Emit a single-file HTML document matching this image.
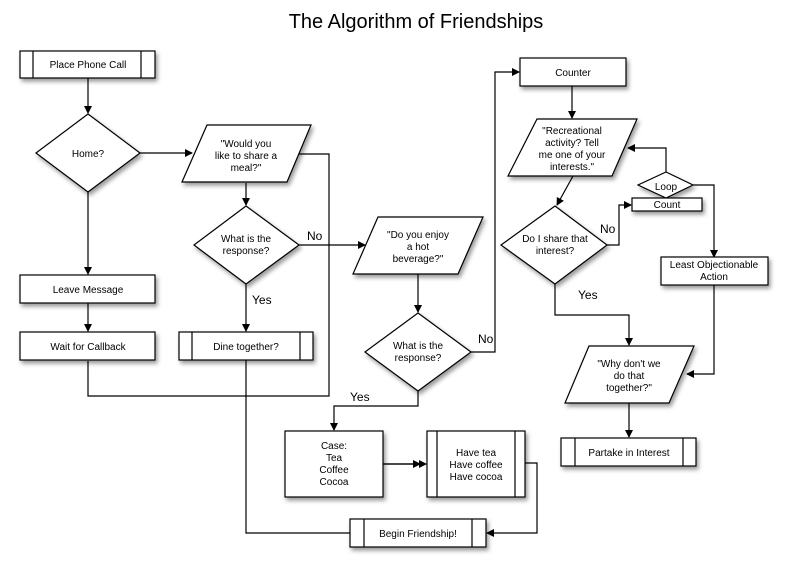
<!DOCTYPE html>
<html><head><style>body{margin:0;background:#fff}svg{display:block}</style></head><body>
<svg width="787" height="571" viewBox="0 0 787 571" xmlns="http://www.w3.org/2000/svg" font-family="Liberation Sans, sans-serif">
<defs>
<filter id="sh" x="-20%" y="-20%" width="150%" height="160%"><feDropShadow dx="2" dy="3" stdDeviation="2" flood-color="#000" flood-opacity="0.4"/></filter>
<marker id="ar" markerWidth="8" markerHeight="8" refX="7" refY="4" orient="auto" markerUnits="userSpaceOnUse"><path d="M0,0 L8,4 L0,8 z" fill="#000"/></marker>
</defs>
<text x="416" y="28" font-size="20" text-anchor="middle">The Algorithm of Friendships</text>
<g fill="none" stroke="#000" stroke-width="1.2">
<line x1="88" y1="78" x2="88" y2="113" marker-end="url(#ar)"/>
<line x1="140" y1="153" x2="192" y2="153" marker-end="url(#ar)"/>
<line x1="88" y1="192" x2="88" y2="274" marker-end="url(#ar)"/>
<line x1="88" y1="303" x2="88" y2="331" marker-end="url(#ar)"/>
<polyline points="88,361 88,396 329,396 329,154 298,154"/>
<line x1="246" y1="183" x2="246" y2="205" marker-end="url(#ar)"/>
<line x1="299" y1="245" x2="365" y2="245" marker-end="url(#ar)"/>
<line x1="246" y1="284" x2="246" y2="331" marker-end="url(#ar)"/>
<polyline points="246,360 246,533 350,533"/>
<line x1="418" y1="274" x2="418" y2="312" marker-end="url(#ar)"/>
<polyline points="471,352 495,352 495,72 519,72" marker-end="url(#ar)"/>
<polyline points="418,391 418,406 334,406 334,430" marker-end="url(#ar)"/>
<line x1="383" y1="464" x2="420" y2="464" marker-end="url(#ar)"/>
<line x1="383" y1="464" x2="426" y2="464" marker-end="url(#ar)"/>
<polyline points="525,463 537,463 537,533 487,533" marker-end="url(#ar)"/>
<line x1="572" y1="86" x2="572" y2="118" marker-end="url(#ar)"/>
<line x1="573" y1="176" x2="557" y2="205" marker-end="url(#ar)"/>
<polyline points="607,245 619,245 619,205 631,205" marker-end="url(#ar)"/>
<polyline points="666,172 666,148 628,148" marker-end="url(#ar)"/>
<polyline points="693,185 714,185 714,257" marker-end="url(#ar)"/>
<polyline points="714,285 714,374 687,374" marker-end="url(#ar)"/>
<polyline points="555,284 555,315 629,315 629,345" marker-end="url(#ar)"/>
<line x1="629" y1="403" x2="629" y2="437" marker-end="url(#ar)"/>
</g>
<g fill="#fff" stroke="#000" stroke-width="1.2" filter="url(#sh)">
<rect x="20" y="51" width="135" height="27"/>
<polygon points="88,114 140,153 88,192 36,153"/>
<polygon points="207,125 311,125 287,182 182,182"/>
<polygon points="246,206 299,245 246,284 194,245"/>
<rect x="20" y="275" width="135" height="28"/>
<rect x="20" y="332" width="135" height="28"/>
<rect x="179" y="332" width="134" height="28"/>
<polygon points="378,217 483,217 458,274 353,274"/>
<polygon points="418,313 471,352 418,391 365,352"/>
<rect x="285" y="431" width="98" height="66"/>
<rect x="427" y="431" width="98" height="66"/>
<rect x="350" y="519" width="136" height="28"/>
<rect x="520" y="58" width="106" height="28"/>
<polygon points="537,119 637,119 612,176 508,176"/>
<polygon points="555,206 607,245 555,284 501,245"/>
<rect x="632" y="198" width="70" height="13"/>
<polygon points="666,172 693,185 666,198 638,185"/>
<rect x="661" y="257" width="107" height="28"/>
<polygon points="589,346 694,346 669,403 565,403"/>
<rect x="561" y="438" width="135" height="28"/>
</g>
<g stroke="#000" stroke-width="1.2">
<line x1="33" y1="51" x2="33" y2="78"/><line x1="141" y1="51" x2="141" y2="78"/>
<line x1="192" y1="332" x2="192" y2="360"/><line x1="300" y1="332" x2="300" y2="360"/>
<line x1="437" y1="431" x2="437" y2="497"/><line x1="515" y1="431" x2="515" y2="497"/>
<line x1="364" y1="519" x2="364" y2="547"/><line x1="472" y1="519" x2="472" y2="547"/>
<line x1="575" y1="438" x2="575" y2="466"/><line x1="683" y1="438" x2="683" y2="466"/>
</g>
<g font-size="10" text-anchor="middle" fill="#000">
<text x="88" y="68">Place Phone Call</text>
<text x="88" y="157">Home?</text>
<text x="246" y="147">"Would you</text><text x="246" y="159">like to share a</text><text x="246" y="171">meal?"</text>
<text x="246" y="242">What is the</text><text x="246" y="254">response?</text>
<text x="88" y="293">Leave Message</text>
<text x="88" y="350">Wait for Callback</text>
<text x="246" y="350">Dine together?</text>
<text x="418" y="238">"Do you enjoy</text><text x="418" y="250">a hot</text><text x="418" y="262">beverage?"</text>
<text x="418" y="349">What is the</text><text x="418" y="361">response?</text>
<text x="334" y="449">Case:</text><text x="334" y="461">Tea</text><text x="334" y="473">Coffee</text><text x="334" y="485">Cocoa</text>
<text x="476" y="456">Have tea</text><text x="476" y="468">Have coffee</text><text x="476" y="480">Have cocoa</text>
<text x="418" y="537">Begin Friendship!</text>
<text x="573" y="76">Counter</text>
<text x="572" y="134">"Recreational</text><text x="572" y="146">activity? Tell</text><text x="572" y="158">me one of your</text><text x="572" y="170">interests."</text>
<text x="555" y="242">Do I share that</text><text x="555" y="254">interest?</text>
<text x="666" y="190">Loop</text>
<text x="667" y="208">Count</text>
<text x="714" y="268">Least Objectionable</text><text x="714" y="280">Action</text>
<text x="629" y="367">"Why don't we</text><text x="629" y="379">do that</text><text x="629" y="391">together?"</text>
<text x="629" y="456">Partake in Interest</text>
</g>
<g font-size="12" fill="#000">
<text x="307" y="240">No</text>
<text x="252" y="304">Yes</text>
<text x="478" y="343">No</text>
<text x="350" y="401">Yes</text>
<text x="600" y="233">No</text>
<text x="578" y="299">Yes</text>
</g>
</svg>
</body></html>
